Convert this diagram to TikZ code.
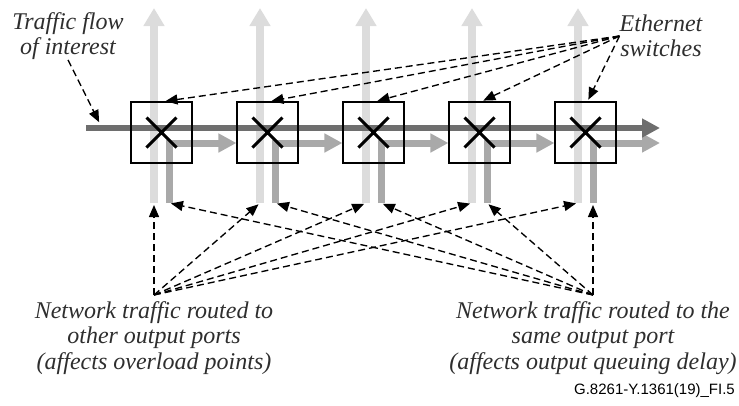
\documentclass[tikz,border=0pt]{standalone}
\usepackage{fontspec}
\setmainfont{Liberation Serif}
\newfontfamily\figfont{Liberation Sans}
\usetikzlibrary{positioning,arrows.meta,calc,backgrounds}
\definecolor{barlight}{HTML}{DCDCDC}
\definecolor{barmid}{HTML}{A9A9A9}
\definecolor{bardark}{HTML}{6E6E6E}
\definecolor{txtgray}{HTML}{2E2E2E}

\begin{document}
\begin{tikzpicture}[x=1pt,y=-1pt,
  switchbox/.style={draw=black, line width=1.1pt, minimum size=61pt, inner sep=0pt},
  inbar/.style={barlight, line width=8pt, -{Triangle[length=18pt,width=20pt]}},
  outbar/.style={barmid, line width=7pt, -{Triangle[length=18pt,width=18pt]}},
  flowbar/.style={bardark, line width=6pt, -{Triangle[length=18pt,width=18pt]}},
  pointer/.style={black, line width=1.35pt, dash pattern=on 7pt off 4pt, -{Triangle[length=12pt,width=10pt]}, shorten >=2pt},
  lbl/.style={font=\itshape\fontsize{24}{25.5}\selectfont, text=txtgray, align=center, inner sep=0pt}]
\useasboundingbox (0,0) rectangle (739,405);

% switches with their ports
\foreach \i/\cx in {1/161.5,2/267.5,3/373.5,4/479.5,5/585.5} {
  \node[switchbox] (sw\i) at (\cx,132.5) {};
  \draw[line width=3pt] (sw\i.center) +(-15,-15) -- +(15,15) (sw\i.center) +(-15,15) -- +(15,-15);
  \coordinate (in\i) at (\cx-7.5,203);
  \coordinate (out\i) at (\cx+7.5,203);
}
\coordinate (flowin) at (86,128);
\coordinate (flowout) at (660,128);
\coordinate (sameout) at (660,143);
\coordinate (flowtip) at (100,124);

% traffic
\begin{pgfonlayer}{background}
\foreach \i in {1,...,5}
  \draw[inbar] (in\i) -- ++(0,-195);
\foreach \i/\j in {1/2,2/3,3/4,4/5}
  \draw[outbar] (out\i) |- ($(sw\j.west)+(0,10.5)$);
\draw[outbar] (out5) |- (sameout);
\draw[flowbar] (flowin) -- (flowout);
\end{pgfonlayer}

% labels
\node[lbl] (flowlbl) at (68,36) {Traffic flow\\of interest};
\node[lbl] (swlbl) at (661,36) {Ethernet\\switches};
\coordinate (othersrc) at (154,295);
\coordinate (samesrc) at (593,295);
\node[lbl, below=6pt of othersrc] (otherlbl) {Network traffic routed to\\other output ports\\(affects overload points)};
\node[lbl, below=6pt of samesrc] (samelbl) {Network traffic routed to the\\same output port\\(affects output queuing delay)};
\node[font=\figfont\fontsize{15}{18}\selectfont, anchor=base east, inner sep=0pt] (figid) at (735,394) {G.8261-Y.1361(19)\_FI.5};

% pointers
\draw[pointer] (flowlbl.south) -- (flowtip);
\foreach \i in {1,...,5}
  \draw[pointer] (swlbl.west) -- ($(sw\i.north)+(2,0)$);
\foreach \i in {1,...,5} {
  \draw[pointer] (othersrc) -- (in\i);
  \draw[pointer] (samesrc) -- (out\i);
}
\end{tikzpicture}
\end{document}
